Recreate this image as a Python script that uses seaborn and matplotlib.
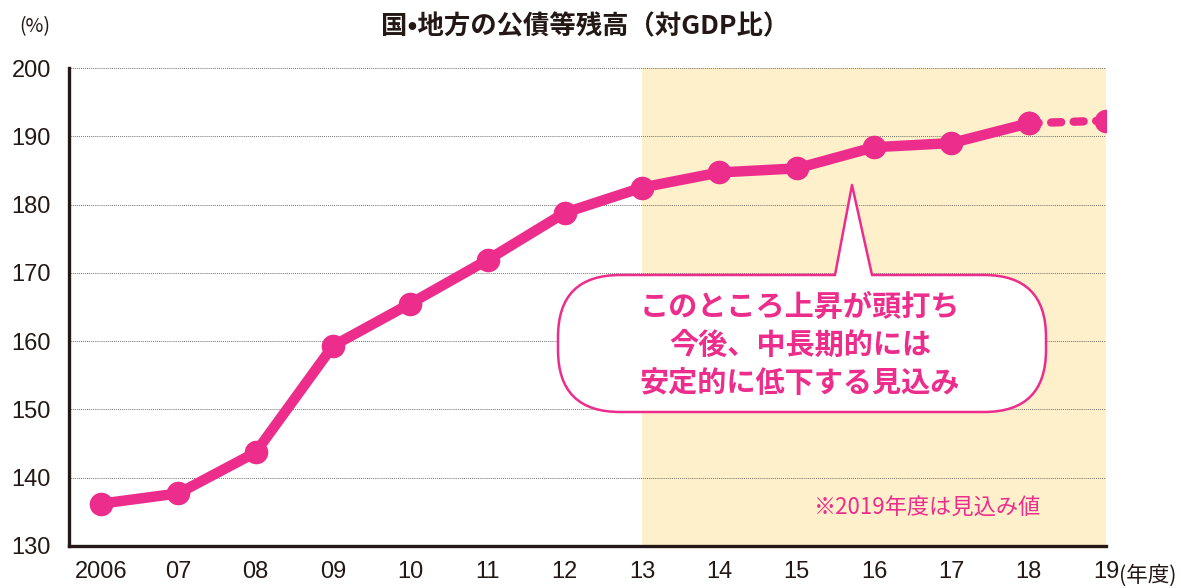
import matplotlib
matplotlib.use("Agg")
import matplotlib.pyplot as plt
import seaborn as sns
import pandas as pd
from matplotlib.patches import FancyBboxPatch, Polygon
from matplotlib.lines import Line2D

# data
years = ["2006", "07", "08", "09", "10", "11", "12", "13", "14", "15", "16", "17", "18", "19"]
ratio = [136.2, 137.7, 143.7, 159.3, 165.5, 171.9, 178.8, 182.5, 184.7, 185.3, 188.4, 189.0, 191.9, 192.3]
yticks = [130, 140, 150, 160, 170, 180, 190, 200]

PINK = "#EC2D8C"
CJK = ["Noto Sans CJK JP", "DejaVu Sans"]

df = pd.DataFrame({"pos": range(len(years)), "year": years, "ratio": ratio})
actual = df.iloc[:-1]
estimate = df.iloc[-2:]

sns.set_style("white")
plt.rcParams["font.family"] = ["Liberation Sans", "Noto Sans CJK JP", "DejaVu Sans"]

fig = plt.figure(figsize=(11.81, 5.88), dpi=100)
ax = fig.add_axes([69 / 1181, 42 / 588, (1106 - 69) / 1181, (546 - 68) / 588])

# forecast period shading
ax.axvspan(7, 13, color="#FEF0CB", zorder=0.2, lw=0)

sns.lineplot(data=actual, x="pos", y="ratio", ax=ax, color=PINK, lw=7.5,
             marker="o", markersize=17, markeredgewidth=0, zorder=3)
ax.plot(estimate["pos"], estimate["ratio"], color=PINK, lw=6,
        linestyle=(0, (1.2, 1.5)), dash_capstyle="round",
        marker="o", markersize=17, markeredgewidth=0, zorder=3)

ax.set_xlim(-0.414, 13)
ax.set_ylim(130, 200)
ax.set_yticks(yticks)
ax.set_xticks(df["pos"])
ax.set_xticklabels(years)
ax.set_xlabel("")
ax.set_ylabel("")
ax.grid(axis="y", color="#555555", linestyle=(0, (0.8, 1.2)), lw=0.7)
ax.grid(axis="x", visible=False)

for s in ["top", "right"]:
    ax.spines[s].set_visible(False)
for s in ["left", "bottom"]:
    ax.spines[s].set_color("#231815")
    ax.spines[s].set_linewidth(2.4)
    ax.spines[s].set_zorder(5)

ax.tick_params(axis="x", direction="in", length=6, width=1.8, color="#231815",
               labelsize=17, pad=11, labelcolor="#231815")
ax.tick_params(axis="y", length=0, labelsize=17, pad=13, labelcolor="#231815")

# unit labels
ax.text(13.17, -0.062, "(年度)", transform=ax.get_xaxis_transform(), ha="left", va="center",
        fontsize=15.5, color="#231815", family=CJK)
fig.text(35 / 1181, 1 - 27 / 588, "(%)", ha="center", va="center", fontsize=14,
         color="#231815", family=CJK)

# title
fig.text(585 / 1181, 1 - 27 / 588, "国•地方の公債等残高（対GDP比）", ha="center", va="center",
         fontsize=19, fontweight="bold", color="#231815", family=CJK)

# note
fig.text(928 / 1181, 1 - 508 / 588, "※2019年度は見込み値", ha="center", va="center",
         fontsize=16, color=PINK, family=CJK)

# callout bubble (positions in figure inches)
tr = fig.dpi_scale_trans
box = FancyBboxPatch((5.58, 1.76), 4.88, 1.37, boxstyle="round,pad=0,rounding_size=0.62",
                     transform=tr, fc="white", ec=PINK, lw=1.8, zorder=6, clip_on=False)
ax.add_patch(box)
tri = Polygon([(8.35, 3.09), (8.52, 4.03), (8.72, 3.09)], closed=True, transform=tr,
              fc="white", ec="none", zorder=7, clip_on=False)
ax.add_patch(tri)
ax.add_line(Line2D([8.35, 8.52, 8.72], [3.13, 4.03, 3.13], transform=tr, color=PINK,
                   lw=1.8, zorder=8, clip_on=False))
fig.text(800 / 1181, 1 - 345 / 588, "このところ上昇が頭打ち\n今後、中長期的には\n安定的に低下する見込み",
         ha="center", va="center", fontsize=21, fontweight="bold", color=PINK,
         linespacing=1.35, family=CJK, zorder=9)

fig.savefig("out.png", dpi=100)
